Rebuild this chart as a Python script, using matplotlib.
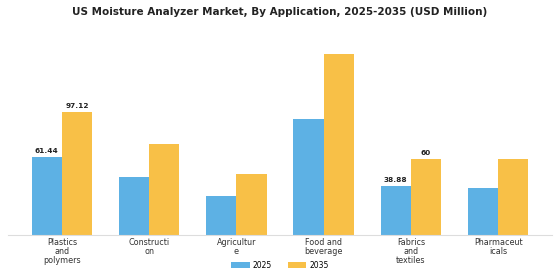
"""
US moisture analyzer market by application, 2025 vs 2035.
"""

import numpy as np
import matplotlib.pyplot as plt

categories = [
    "Plastics\nand\npolymers",
    "Constructi\non",
    "Agricultur\ne",
    "Food and\nbeverage",
    "Fabrics\nand\ntextiles",
    "Pharmaceut\nicals",
]
values_2025 = [61.44, 46.1, 30.8, 91.9, 38.88, 37.4]
values_2035 = [97.12, 71.9, 48.0, 142.8, 60, 59.8]
# only some bars carry a value label in the original
labels_2025 = ["61.44", "", "", "", "38.88", ""]
labels_2035 = ["97.12", "", "", "", "60", ""]

blue = "#5DB1E4"
yellow = "#F8C047"

fig = plt.figure(figsize=(5.6, 2.8), dpi=100)
ax = fig.add_axes([0.014, 0.161, 0.972, 0.678])

x = np.arange(len(categories))
width = 0.347
b1 = ax.bar(x - width / 2, values_2025, width, color=blue, label="2025")
b2 = ax.bar(x + width / 2, values_2035, width, color=yellow, label="2035")

for bars, labels in ((b1, labels_2025), (b2, labels_2035)):
    for bar, text in zip(bars, labels):
        if text:
            ax.text(
                bar.get_x() + bar.get_width() / 2,
                bar.get_height() + 2.5,
                text,
                ha="center",
                va="bottom",
                fontsize=5.3,
                fontweight="bold",
                color="#222222",
            )

ax.set_xlim(-0.62, 5.62)
ax.set_ylim(0, 150)
ax.set_xticks(x)
ax.set_xticklabels(categories, fontsize=5.8, color="#333333", linespacing=1.0)
ax.tick_params(axis="x", length=0, pad=2)
ax.set_yticks([])
for side in ("top", "right", "left"):
    ax.spines[side].set_visible(False)
ax.spines["bottom"].set_color("#dddddd")

fig.suptitle(
    "US Moisture Analyzer Market, By Application, 2025-2035 (USD Million)",
    x=0.5, y=0.975, fontsize=7.5, fontweight="bold", color="#222222",
)
fig.legend(
    loc="center",
    bbox_to_anchor=(0.5, 0.053),
    ncol=2,
    frameon=False,
    fontsize=5.5,
    handlelength=2.4,
    handleheight=0.7,
    handletextpad=0.4,
    columnspacing=2.1,
)

fig.savefig("out.png", dpi=100)
